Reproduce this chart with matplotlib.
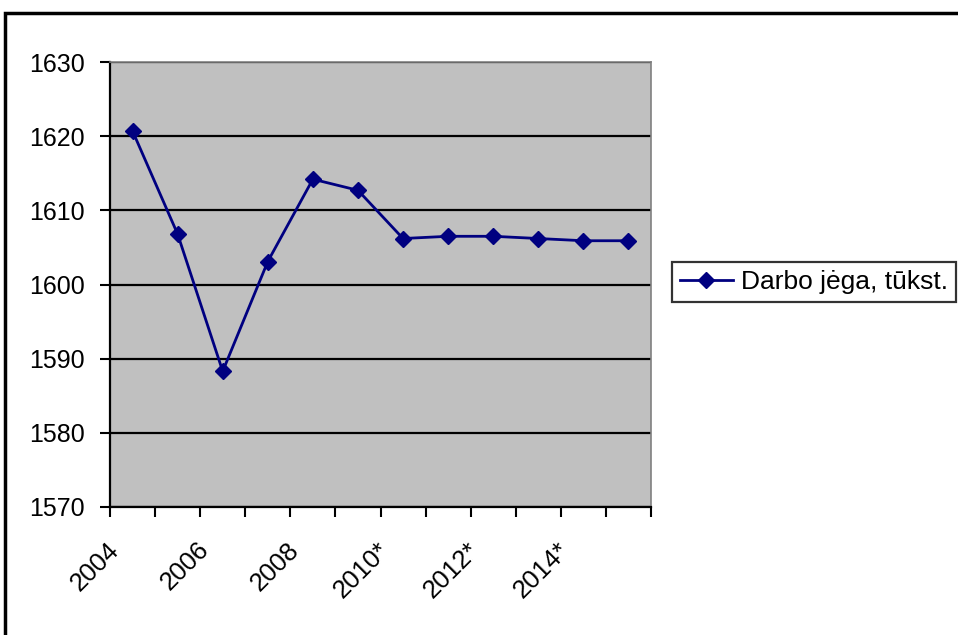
import matplotlib
matplotlib.use("Agg")
import matplotlib.pyplot as plt
import matplotlib.transforms as mtrans
from matplotlib.patches import Rectangle

plt.rcParams['font.family'] = ['Liberation Sans', 'DejaVu Sans']

years = ['2004', '2005', '2006', '2007', '2008', '2009',
         '2010*', '2011*', '2012*', '2013*', '2014*', '2015*']
darbo_jega = [1620.7, 1606.8, 1588.3, 1603.1, 1614.2, 1612.7,
              1606.2, 1606.5, 1606.5, 1606.2, 1605.9, 1605.9]
y_ticks = [1570, 1580, 1590, 1600, 1610, 1620, 1630]

fig = plt.figure(figsize=(9.58, 6.35), dpi=100)
ax = fig.add_axes([110/958, 1 - 507/635, 541/958, 445/635])
ax.set_facecolor('#c0c0c0')

x = list(range(len(years)))
ax.plot(x, darbo_jega, color='#000080', linewidth=2, marker='D',
        markersize=8.5, label='Darbo jėga, tūkst.')

ax.set_xlim(-0.5, len(years) - 0.5)
ax.set_ylim(1570, 1630)
ax.set_yticks(y_ticks)
ax.yaxis.grid(True, color='black', linewidth=1.6)
ax.set_axisbelow(True)

# tick marks between categories, labels every other year
ax.set_xticks([i - 0.5 for i in range(len(years) + 1)])
ax.set_xticklabels([])
ax.set_xticks(x[::2], minor=True)
ax.set_xticklabels(years[::2], minor=True, rotation=45, ha='right',
                   va='top', fontsize=18.5)
ax.tick_params(axis='x', which='minor', length=0, pad=22)
ax.tick_params(axis='x', which='major', length=7, width=1.5, direction='out')
ax.tick_params(axis='y', length=7, width=1.5, direction='out', labelsize=18, pad=11)

shift = mtrans.ScaledTranslation(-9/100, 0, fig.dpi_scale_trans)
for lbl in ax.get_xticklabels(minor=True):
    lbl.set_transform(lbl.get_transform() + shift)

for side in ['left', 'bottom']:
    ax.spines[side].set_linewidth(1.6)
    ax.spines[side].set_color('black')
for side in ['top', 'right']:
    ax.spines[side].set_linewidth(1.2)
    ax.spines[side].set_color('#808080')

leg = ax.legend(loc='center left', bbox_to_anchor=(0.0388 + 1, 0.5056),
                fontsize=19, frameon=True, fancybox=False, borderpad=0.3,
                borderaxespad=0, handlelength=2.0, handletextpad=0.3)
leg.get_frame().set_edgecolor('black')
leg.get_frame().set_linewidth(1.6)

# outer chart border
fig.patches.append(Rectangle((5/958, -0.1), 1.2, 1 - 13/635 + 0.1,
                             transform=fig.transFigure, fill=False,
                             edgecolor='black', linewidth=2.5))

fig.savefig('out.png', dpi=100)
